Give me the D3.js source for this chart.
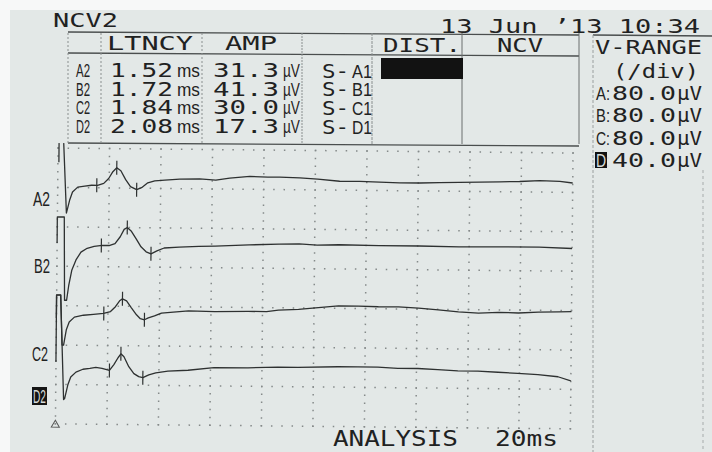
<!DOCTYPE html>
<html>
<head>
<meta charset="utf-8">
<script src="https://cdn.jsdelivr.net/npm/d3@7"></script>
<style>
  body { margin: 0; background: #fff; }
  svg { display: block; }
  text { font-variant-numeric: slashed-zero; }
</style>
</head>
<body>
<svg id="chart" width="712" height="452"></svg>
<script>
// table values
const rowLabels  = ['A2', 'B2', 'C2', 'D2']
const latencyMs  = [1.52, 1.72, 1.84, 2.08]
const ampUV      = [31.3, 41.3, 30.0, 17.3]
const segLabels  = ['A1', 'B1', 'C1', 'D1']
const channels   = ['A', 'B', 'C', 'D']
const vRangeUV   = [80, 80, 80, 40]        // µV per division
const sweepMs    = [0, 20]                 // 2 ms / div

// cursor marks (onset, peak, trough) in ms
const marksA = [1.52, 2.29, 3.07]
const marksB = [1.72, 2.72, 3.65]
const marksC = [1.84, 2.56, 3.42]
const marksD = [2.08, 2.52, 3.38]

// traces: time (ms) and amplitude (µV, relative to trace baseline)
const msA = [0.04, 0.04, 0.20, 0.35, 0.47, 0.58, 0.78, 1.05, 1.32, 1.55, 1.79, 1.98, 2.14, 2.29, 2.45, 2.64, 2.83, 3.07, 3.26, 3.50, 3.77, 4.16, 4.74, 5.51, 6.14, 6.68, 7.46, 8.16, 8.62, 9.40, 10.10, 10.95, 11.73, 12.50, 13.28, 14.06, 14.83, 15.61, 16.39, 17.17, 17.94, 18.72, 19.50, 20.0]
const uvA = [38, 100, 100, -65, -39, -22, -12, -10, -8, -8, -4, 6, 20, 28, 22, 4, -10, -16, -12, -2, 2, 4, 6, 7, 5, 9, 13, 12, 12, 11, 9, 5, 5, 4, 3, 3, 4, 5, 6, 7, 8, 10, 9, 6]

const msB = [0, 0, 0.27, 0.31, 0.39, 0.47, 0.58, 0.74, 0.93, 1.17, 1.44, 1.75, 2.02, 2.25, 2.45, 2.60, 2.72, 2.87, 3.07, 3.26, 3.46, 3.65, 3.88, 4.16, 4.74, 5.51, 6.14, 7.46, 8.62, 9.40, 10.10, 10.95, 12.50, 14.06, 15.61, 17.17, 18.72, 20.0]
const uvB = [6, 59, 59, -110, -110, -79, -49, -28, -12, -4, 0, 2, 2, 6, 20, 35, 39, 32, 16, 0, -10, -14, -8, -2, 0, 2, 3, 6, 8, 9, 7, 8, 7, 7, 6, 7, 7, 5]

const msC = [0, 0, 0.16, 0.23, 0.29, 0.39, 0.50, 0.70, 1.05, 1.44, 1.83, 2.10, 2.29, 2.45, 2.56, 2.72, 2.91, 3.11, 3.26, 3.42, 3.57, 3.81, 4.08, 4.54, 5.13, 6.14, 7.46, 8.16, 8.62, 9.40, 10.17, 10.95, 11.73, 12.50, 13.28, 14.06, 14.83, 15.61, 16.39, 17.17, 17.94, 18.72, 19.50, 20.0]
const uvC = [-8, 39, 39, -63, -63, -32, -16, -6, -2, 0, 2, 6, 16, 28, 32, 28, 14, 0, -8, -10, -6, -2, 4, 6, 9, 8, 9, 9, 12, 14, 18, 22, 22, 21, 21, 19, 16, 12, 10, 12, 11, 13, 14, 15]

const msD = [0, 0, 0.16, 0.31, 0.35, 0.47, 0.58, 0.78, 1.05, 1.32, 1.55, 1.79, 2.08, 2.25, 2.41, 2.52, 2.64, 2.83, 3.03, 3.22, 3.38, 3.61, 3.88, 4.35, 5.13, 6.14, 7.46, 8.62, 9.40, 10.95, 11.73, 12.50, 13.28, 14.06, 14.83, 15.61, 16.39, 17.17, 17.94, 18.72, 19.50, 20.0]
const uvD = [6, 74, 74, -32, -31, -17, -9, -4, -1, 0, 1, 0, -2, 4, 11, 15, 12, 2, -5, -8, -9, -6, -4, -2, -1, 2, 2, 3, 3, 4, 4, 4, 3, 3, 2, 1, 1, 0, -1, -2, -4, -8]

const traces = [
    {ms: msA, uv: uvA, marks: marksA},
    {ms: msB, uv: uvB, marks: marksB},
    {ms: msC, uv: uvC, marks: marksC},
    {ms: msD, uv: uvD, marks: marksD}
]

const ink = '#1f2222'
const mono = "'DejaVu Sans Mono', monospace"
const narrow = "'Liberation Sans Narrow', 'Liberation Sans', sans-serif"

const svg = d3.select('#chart')

// photo background
svg.append('rect').attr('width', 712).attr('height', 452).attr('fill', '#f7f8f8')
svg.append('rect').attr('x', 10).attr('y', 10).attr('width', 702).attr('height', 442).attr('fill', '#e3e8e7')

function txt(g, x, y, str, size, width, family, fill) {
    return g.append('text')
        .attr('x', x).attr('y', y)
        .attr('font-size', size)
        .attr('font-family', family || mono)
        .attr('textLength', width)
        .attr('lengthAdjust', 'spacingAndGlyphs')
        .attr('fill', fill || ink)
        .text(str)
}

// ---------- plot area (screen photo is slightly rotated) ----------
const divH = 39.4
const gridTop = 148
const x = d3.scaleLinear().domain(sweepMs).range([58, 573])
const baseY = [181, 246, 314, 368]

svg.append('clipPath').attr('id', 'plotClip')
    .append('rect').attr('x', 30).attr('y', 143).attr('width', 560).attr('height', 320)

const plot = svg.append('g').attr('transform', 'rotate(0.55, 58, 148)')
const inner = plot.append('g').attr('clip-path', 'url(#plotClip)')

// dotted grid
const gridRows = d3.range(8).map(j => gridTop + j * divH)
const xTicks = d3.range(sweepMs[0], sweepMs[1] + 0.001, 2)
const minorX = d3.range(sweepMs[0], sweepMs[1] + 0.001, 0.4)
const gridDots = []
gridRows.forEach(gy => minorX.forEach(m => gridDots.push([x(m), gy])))
xTicks.forEach(t => {
    for (let gy = gridTop - divH / 5; gy <= gridRows[7] + 0.1; gy += divH / 5) gridDots.push([x(t), gy])
})
inner.append('g').selectAll('rect').data(gridDots).join('rect')
    .attr('x', d => d[0] - 0.7).attr('y', d => d[1] - 0.7)
    .attr('width', 1.5).attr('height', 1.5)
    .attr('fill', '#858a8a')

function valueAt(ms, uv, t) {
    let i = d3.bisectRight(ms, t)
    i = Math.max(1, Math.min(ms.length - 1, i))
    const f = (t - ms[i - 1]) / (ms[i] - ms[i - 1])
    return uv[i - 1] + f * (uv[i] - uv[i - 1])
}

traces.forEach((t, i) => {
    const y = d3.scaleLinear().domain([0, vRangeUV[i]]).range([baseY[i], baseY[i] - divH])
    const line = d3.line().x(d => x(d[0])).y(d => y(d[1]))
    inner.append('path')
        .datum(d3.zip(t.ms, t.uv))
        .attr('d', line)
        .attr('fill', 'none')
        .attr('stroke', '#2e3131')
        .attr('stroke-width', 1.3)
        .attr('stroke-linejoin', 'round')
    inner.append('g').selectAll('line').data(t.marks).join('line')
        .attr('x1', m => x(m)).attr('x2', m => x(m))
        .attr('y1', m => y(valueAt(t.ms, t.uv, m)) - 7)
        .attr('y2', m => y(valueAt(t.ms, t.uv, m)) + 7)
        .attr('stroke', '#2e3131').attr('stroke-width', 1.2)
})

// stimulus triangle
plot.append('path')
    .attr('d', d3.symbol().type(d3.symbolTriangle).size(28)())
    .attr('transform', `translate(${x(0)},${gridRows[7] + 1})`)
    .attr('fill', 'none').attr('stroke', '#555').attr('stroke-width', 1)

// trace labels
txt(svg, 33, 206, 'A2', 20, 17, narrow)
txt(svg, 34, 273, 'B2', 20, 16, narrow)
txt(svg, 32, 361, 'C2', 20, 16, narrow)
svg.append('rect').attr('x', 32).attr('y', 387).attr('width', 15).attr('height', 18).attr('fill', '#151515')
txt(svg, 33, 403, 'D2', 18, 13, narrow, '#d8dcdb')

// ---------- header table ----------
const lineCol = '#4a4e4e'
const hl = [[32, 35], [53, 56], [143, 146]]
hl.forEach(([y1, y2]) => svg.append('line').attr('x1', 68).attr('y1', y1).attr('x2', 579).attr('y2', y2)
    .attr('stroke', lineCol).attr('stroke-width', 1.4))
const vl = [[68, '2,2'], [101, '2,2'], [202, '2,2'], [302, '2,1'], [372, '3,1'], [462, null], [579, null]]
vl.forEach(([vx, dash]) => svg.append('line').attr('x1', vx).attr('x2', vx).attr('y1', 33).attr('y2', 144)
    .attr('stroke', dash ? '#8a8f8f' : '#6a6e6e').attr('stroke-width', 1)
    .attr('stroke-dasharray', dash))

txt(svg, 53, 27, 'NCV2', 19, 65)
txt(svg, 440, 33, '13 Jun \u201913 10:34', 19, 260)
txt(svg, 107, 50, 'LTNCY', 20, 86)
txt(svg, 225, 50, 'AMP', 20, 52)
txt(svg, 383, 52, 'DIST.', 20, 78)
txt(svg, 497, 52, 'NCV', 20, 46)

const rowY = [77, 95.5, 114, 133]
rowLabels.forEach((r, i) => {
    txt(svg, 76, rowY[i], r, 19, 14, narrow)
    txt(svg, 110, rowY[i], d3.format('.2f')(latencyMs[i]), 20, 63)
    txt(svg, 177, rowY[i], 'ms', 18, 23, narrow)
    txt(svg, 213, rowY[i], d3.format('.1f')(ampUV[i]), 20, 66)
    txt(svg, 283, rowY[i], '\u00b5V', 18, 17, narrow)
    txt(svg, 322, rowY[i] + 0.5, 'S-', 20, 27)
    txt(svg, 352, rowY[i] + 0.5, segLabels[i], 19, 20, narrow)
})
svg.append('rect').attr('x', 381).attr('y', 58).attr('width', 82).attr('height', 21).attr('fill', '#121212')

// ---------- V-RANGE panel ----------
svg.append('line').attr('x1', 593).attr('y1', 35).attr('x2', 712).attr('y2', 36)
    .attr('stroke', lineCol).attr('stroke-width', 1.4)
svg.append('line').attr('x1', 593).attr('y1', 35).attr('x2', 593).attr('y2', 452)
    .attr('stroke', '#9a9f9f').attr('stroke-width', 1).attr('stroke-dasharray', '3,2')
svg.append('line').attr('x1', 703).attr('y1', 170).attr('x2', 703).attr('y2', 452)
    .attr('stroke', '#a6abab').attr('stroke-width', 1).attr('stroke-dasharray', '3,3')

txt(svg, 595, 54, 'V-RANGE', 20, 107)
txt(svg, 613, 78, '(/div)', 20, 86)
const panelY = [100, 122, 145, 167]
channels.forEach((c, i) => {
    if (c === 'D') svg.append('rect').attr('x', 595).attr('y', panelY[i] - 15).attr('width', 12).attr('height', 16).attr('fill', '#121212')
    txt(svg, 596, panelY[i], c + ':', 19, 14, narrow, c === 'D' ? '#d8dcdb' : ink)
    txt(svg, 612, panelY[i], d3.format('.1f')(vRangeUV[i]), 20, 64)
    txt(svg, 677, panelY[i], '\u00b5V', 20, 25)
})

// ---------- footer ----------
txt(svg, 333, 446, 'ANALYSIS', 22, 125)
txt(svg, 495, 446, '20ms', 22, 63)
</script>
</body>
</html>
